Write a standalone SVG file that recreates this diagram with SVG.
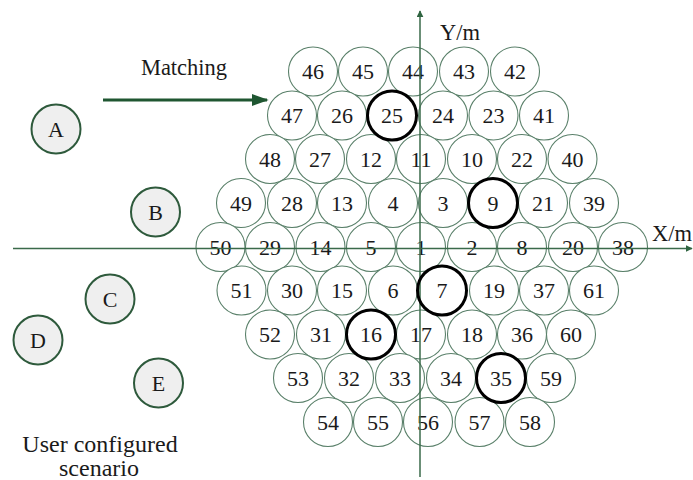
<svg xmlns="http://www.w3.org/2000/svg" width="693" height="480" viewBox="0 0 693 480">
  <style>
    text { font-family: "Liberation Serif", "Times New Roman", serif; fill: #1a1a1a; }
    .cell circle { fill: #ffffff; stroke: #5a806a; stroke-width: 1.1; }
    .cell.sel circle { stroke: #000000; stroke-width: 3; fill: none; }
    .cell text { font-size: 22px; text-anchor: middle; }
    .user circle { fill: #efefef; stroke: #2e5a3c; stroke-width: 2; }
    .user text { font-size: 22px; text-anchor: middle; }
    .axis { stroke: #3a6a4a; stroke-width: 1.5; fill: none; }
    .match { stroke: #1f5631; stroke-width: 3; fill: none; }
    .label { font-size: 22.5px; }
    .caption { font-size: 24px; text-anchor: middle; }
  </style>
  <defs>
    <marker id="axisHead" viewBox="0 0 10 10" refX="9" refY="5" markerWidth="7" markerHeight="7" markerUnits="userSpaceOnUse" orient="auto">
      <path d="M0,0 L10,5 L0,10 Z" fill="#2f6440"/>
    </marker>
    <marker id="matchHead" viewBox="0 0 10 10" refX="9" refY="5" markerWidth="17" markerHeight="12" markerUnits="userSpaceOnUse" orient="auto" preserveAspectRatio="none">
      <path d="M0,0 L10,5 L0,10 Z" fill="#1f5631"/>
    </marker>
  </defs>

  <!-- cell circles, row by row from top -->
  <g id="cells">
    <g id="c46" class="cell"><circle cx="313" cy="71.5" r="24.5"/><text x="313" y="79">46</text></g>
    <g id="c45" class="cell"><circle cx="363" cy="71.5" r="24.5"/><text x="363" y="79">45</text></g>
    <g id="c44" class="cell"><circle cx="413" cy="71.5" r="24.5"/><text x="413" y="79">44</text></g>
    <g id="c43" class="cell"><circle cx="464" cy="71.5" r="24.5"/><text x="464" y="79">43</text></g>
    <g id="c42" class="cell"><circle cx="515" cy="71.5" r="24.5"/><text x="515" y="79">42</text></g>

    <g id="c47" class="cell"><circle cx="292" cy="115.5" r="24.5"/><text x="292" y="123">47</text></g>
    <g id="c26" class="cell"><circle cx="342" cy="115.5" r="24.5"/><text x="342" y="123">26</text></g>
    <g id="c24" class="cell"><circle cx="443" cy="115.5" r="24.5"/><text x="443" y="123">24</text></g>
    <g id="c23" class="cell"><circle cx="493.5" cy="115.5" r="24.5"/><text x="493.5" y="123">23</text></g>
    <g id="c41" class="cell"><circle cx="544" cy="115.5" r="24.5"/><text x="544" y="123">41</text></g>

    <g id="c48" class="cell"><circle cx="270" cy="159" r="24.5"/><text x="270" y="166.5">48</text></g>
    <g id="c27" class="cell"><circle cx="320" cy="159" r="24.5"/><text x="320" y="166.5">27</text></g>
    <g id="c12" class="cell"><circle cx="371" cy="159" r="24.5"/><text x="371" y="166.5">12</text></g>
    <g id="c11" class="cell"><circle cx="421" cy="159" r="24.5"/><text x="421" y="166.5">11</text></g>
    <g id="c10" class="cell"><circle cx="472" cy="159" r="24.5"/><text x="472" y="166.5">10</text></g>
    <g id="c22" class="cell"><circle cx="522" cy="159" r="24.5"/><text x="522" y="166.5">22</text></g>
    <g id="c40" class="cell"><circle cx="572.5" cy="159" r="24.5"/><text x="572.5" y="166.5">40</text></g>

    <g id="c49" class="cell"><circle cx="241" cy="203" r="24.5"/><text x="241" y="210.5">49</text></g>
    <g id="c28" class="cell"><circle cx="292" cy="203" r="24.5"/><text x="292" y="210.5">28</text></g>
    <g id="c13" class="cell"><circle cx="342" cy="203" r="24.5"/><text x="342" y="210.5">13</text></g>
    <g id="c4" class="cell"><circle cx="393" cy="203" r="24.5"/><text x="393" y="210.5">4</text></g>
    <g id="c3" class="cell"><circle cx="443" cy="203" r="24.5"/><text x="443" y="210.5">3</text></g>
    <g id="c21" class="cell"><circle cx="543" cy="203" r="24.5"/><text x="543" y="210.5">21</text></g>
    <g id="c39" class="cell"><circle cx="594" cy="203" r="24.5"/><text x="594" y="210.5">39</text></g>

    <g id="c50" class="cell"><circle cx="220.5" cy="247" r="24.5"/><text x="220.5" y="254.5">50</text></g>
    <g id="c29" class="cell"><circle cx="270" cy="247" r="24.5"/><text x="270" y="254.5">29</text></g>
    <g id="c14" class="cell"><circle cx="320.5" cy="247" r="24.5"/><text x="320.5" y="254.5">14</text></g>
    <g id="c5" class="cell"><circle cx="371" cy="247" r="24.5"/><text x="371" y="254.5">5</text></g>
    <g id="c1" class="cell"><circle cx="421" cy="247" r="24.5"/><text x="421" y="254.5">1</text></g>
    <g id="c2" class="cell"><circle cx="472" cy="247" r="24.5"/><text x="472" y="254.5">2</text></g>
    <g id="c8" class="cell"><circle cx="522" cy="247" r="24.5"/><text x="522" y="254.5">8</text></g>
    <g id="c20" class="cell"><circle cx="573" cy="247" r="24.5"/><text x="573" y="254.5">20</text></g>
    <g id="c38" class="cell"><circle cx="623" cy="247" r="24.5"/><text x="623" y="254.5">38</text></g>

    <g id="c51" class="cell"><circle cx="241.5" cy="290.5" r="24.5"/><text x="241.5" y="298">51</text></g>
    <g id="c30" class="cell"><circle cx="292" cy="290.5" r="24.5"/><text x="292" y="298">30</text></g>
    <g id="c15" class="cell"><circle cx="342" cy="290.5" r="24.5"/><text x="342" y="298">15</text></g>
    <g id="c6" class="cell"><circle cx="393" cy="290.5" r="24.5"/><text x="393" y="298">6</text></g>
    <g id="c19" class="cell"><circle cx="494" cy="290.5" r="24.5"/><text x="494" y="298">19</text></g>
    <g id="c37" class="cell"><circle cx="544" cy="290.5" r="24.5"/><text x="544" y="298">37</text></g>
    <g id="c61" class="cell"><circle cx="594" cy="290.5" r="24.5"/><text x="594" y="298">61</text></g>

    <g id="c52" class="cell"><circle cx="270" cy="334.5" r="24.5"/><text x="270" y="342">52</text></g>
    <g id="c31" class="cell"><circle cx="321" cy="334.5" r="24.5"/><text x="321" y="342">31</text></g>
    <g id="c17" class="cell"><circle cx="421" cy="334.5" r="24.5"/><text x="421" y="342">17</text></g>
    <g id="c18" class="cell"><circle cx="472" cy="334.5" r="24.5"/><text x="472" y="342">18</text></g>
    <g id="c36" class="cell"><circle cx="522" cy="334.5" r="24.5"/><text x="522" y="342">36</text></g>
    <g id="c60" class="cell"><circle cx="571" cy="334.5" r="24.5"/><text x="571" y="342">60</text></g>

    <g id="c53" class="cell"><circle cx="298" cy="378" r="24.5"/><text x="298" y="385.5">53</text></g>
    <g id="c32" class="cell"><circle cx="349" cy="378" r="24.5"/><text x="349" y="385.5">32</text></g>
    <g id="c33" class="cell"><circle cx="400" cy="378" r="24.5"/><text x="400" y="385.5">33</text></g>
    <g id="c34" class="cell"><circle cx="451" cy="378" r="24.5"/><text x="451" y="385.5">34</text></g>
    <g id="c59" class="cell"><circle cx="551" cy="378" r="24.5"/><text x="551" y="385.5">59</text></g>

    <g id="c54" class="cell"><circle cx="328" cy="422" r="24.5"/><text x="328" y="429.5">54</text></g>
    <g id="c55" class="cell"><circle cx="378" cy="422" r="24.5"/><text x="378" y="429.5">55</text></g>
    <g id="c56" class="cell"><circle cx="428" cy="422" r="24.5"/><text x="428" y="429.5">56</text></g>
    <g id="c57" class="cell"><circle cx="479.5" cy="422" r="24.5"/><text x="479.5" y="429.5">57</text></g>
    <g id="c58" class="cell"><circle cx="530" cy="422" r="24.5"/><text x="530" y="429.5">58</text></g>
  </g>

  <!-- axes and the matching arrow -->
  <g id="connectors">
    <line class="axis" x1="13" y1="248.5" x2="692" y2="248.5" marker-end="url(#axisHead)"/>
    <line class="axis" x1="420" y1="477" x2="420" y2="11" marker-end="url(#axisHead)"/>
    <line class="match" x1="103" y1="100" x2="267" y2="100" marker-end="url(#matchHead)"/>
  </g>

  <!-- highlighted cells drawn on top of the axes -->
  <g id="selected">
    <g id="c25" class="cell sel"><circle cx="392" cy="115.5" r="24.5"/><text x="392" y="123">25</text></g>
    <g id="c9" class="cell sel"><circle cx="493" cy="203" r="24.5"/><text x="493" y="210.5">9</text></g>
    <g id="c7" class="cell sel"><circle cx="442" cy="290.5" r="24.5"/><text x="442" y="298">7</text></g>
    <g id="c16" class="cell sel"><circle cx="371" cy="334.5" r="24.5"/><text x="371" y="342">16</text></g>
    <g id="c35" class="cell sel"><circle cx="501" cy="378" r="24.5"/><text x="501" y="385.5">35</text></g>
  </g>

  <!-- users -->
  <g id="userA" class="user"><circle cx="56" cy="129" r="24.5"/><text x="56" y="136.5">A</text></g>
  <g id="userB" class="user"><circle cx="155.5" cy="212" r="24.5"/><text x="155.5" y="219.5">B</text></g>
  <g id="userC" class="user"><circle cx="110" cy="299" r="24.5"/><text x="110" y="306.5">C</text></g>
  <g id="userD" class="user"><circle cx="38" cy="340" r="24.5"/><text x="38" y="347.5">D</text></g>
  <g id="userE" class="user"><circle cx="158.5" cy="383" r="24.5"/><text x="158.5" y="390.5">E</text></g>

  <!-- labels -->
  <text class="label" x="440" y="40">Y/m</text>
  <text class="label" x="692" y="241" text-anchor="end" font-size="22px">X/m</text>
  <text class="label" x="184" y="75" text-anchor="middle">Matching</text>
  <text class="caption" x="100" y="452">User configured</text>
  <text class="caption" x="99" y="476">scenario</text>
</svg>
